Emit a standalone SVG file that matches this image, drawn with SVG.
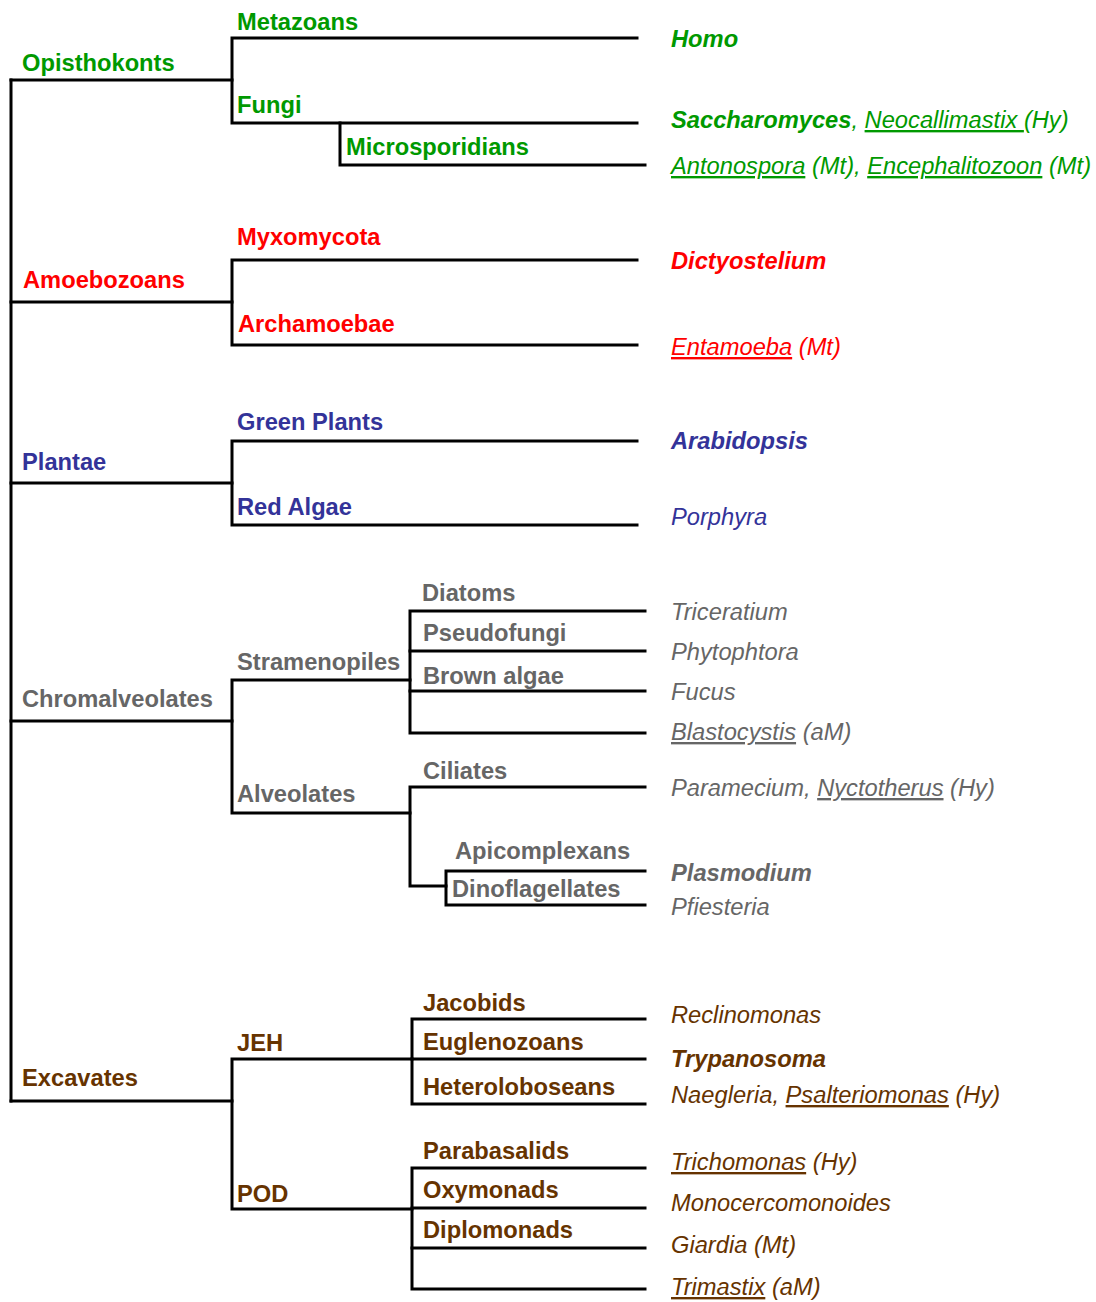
<svg xmlns="http://www.w3.org/2000/svg" width="1096" height="1302" viewBox="0 0 1096 1302">
<style>
text{font-family:"Liberation Sans",Arial,sans-serif;font-size:23.7px}
.c{font-weight:bold}
.s{font-style:italic}
.b{font-weight:bold}
.u{text-decoration:underline}
.g{fill:#009900}
.r{fill:#ff0000}
.p{fill:#333399}
.y{fill:#666666}
.w{fill:#663300}
#connectors path{fill:none;stroke:#000;stroke-width:3;stroke-linecap:square;stroke-linejoin:miter}
</style>
<rect width="1096" height="1302" fill="#fff"/>
<g id="connectors">
<path d="M11,80 V1101"/>
<path d="M11,80 H232"/>
<path d="M637,38 H232 V123 H637"/>
<path d="M340,123 V165 H645"/>
<path d="M11,302 H232"/>
<path d="M637,260 H232 V345 H637"/>
<path d="M11,483 H232"/>
<path d="M637,441 H232 V525 H637"/>
<path d="M11,721 H232"/>
<path d="M410,680 H232 V813 H410"/>
<path d="M645,611 H410 V733 H645"/>
<path d="M410,651 H645 M410,691 H645"/>
<path d="M645,787 H410 V886 H446"/>
<path d="M645,871 H446 V905 H645"/>
<path d="M11,1101 H232"/>
<path d="M412,1059 H232 V1209 H412"/>
<path d="M645,1019 H412 V1104 H645"/>
<path d="M412,1059 H645"/>
<path d="M645,1168 H412 V1289 H645"/>
<path d="M412,1208 H645 M412,1248 H645"/>
</g>
<g id="n-opisthokonts"><text class="c g" x="22" y="71">Opisthokonts</text></g>
<g id="n-metazoans"><text class="c g" x="237" y="30">Metazoans</text></g>
<g id="n-fungi"><text class="c g" x="237" y="113">Fungi</text></g>
<g id="n-microsporidians"><text class="c g" x="346" y="155">Microsporidians</text></g>
<g id="n-homo"><text class="s b g" x="671" y="47">Homo</text></g>
<g id="n-saccharomyces"><text class="s g" x="671" y="128"><tspan class="b">Saccharomyces</tspan>, <tspan class="u">Neocallimastix </tspan>(Hy)</text></g>
<g id="n-antonospora"><text class="s g" x="671" y="174"><tspan class="u">Antonospora</tspan> (Mt), <tspan class="u">Encephalitozoon</tspan> (Mt)</text></g>
<g id="n-amoebozoans"><text class="c r" x="23" y="288">Amoebozoans</text></g>
<g id="n-myxomycota"><text class="c r" x="237" y="245">Myxomycota</text></g>
<g id="n-archamoebae"><text class="c r" x="238" y="332">Archamoebae</text></g>
<g id="n-dictyostelium"><text class="s b r" x="671" y="269">Dictyostelium</text></g>
<g id="n-entamoeba"><text class="s r" x="671" y="355"><tspan class="u">Entamoeba</tspan> (Mt)</text></g>
<g id="n-plantae"><text class="c p" x="22" y="470">Plantae</text></g>
<g id="n-greenplants"><text class="c p" x="237" y="430">Green Plants</text></g>
<g id="n-redalgae"><text class="c p" x="237" y="515">Red Algae</text></g>
<g id="n-arabidopsis"><text class="s b p" x="671" y="449">Arabidopsis</text></g>
<g id="n-porphyra"><text class="s p" x="671" y="525">Porphyra</text></g>
<g id="n-chromalveolates"><text class="c y" x="22" y="707">Chromalveolates</text></g>
<g id="n-stramenopiles"><text class="c y" x="237" y="670">Stramenopiles</text></g>
<g id="n-alveolates"><text class="c y" x="237" y="802">Alveolates</text></g>
<g id="n-diatoms"><text class="c y" x="422" y="601">Diatoms</text></g>
<g id="n-pseudofungi"><text class="c y" x="423" y="641">Pseudofungi</text></g>
<g id="n-brownalgae"><text class="c y" x="423" y="684">Brown algae</text></g>
<g id="n-ciliates"><text class="c y" x="423" y="779">Ciliates</text></g>
<g id="n-apicomplexans"><text class="c y" x="455" y="859">Apicomplexans</text></g>
<g id="n-dinoflagellates"><text class="c y" x="452" y="897">Dinoflagellates</text></g>
<g id="n-triceratium"><text class="s y" x="671" y="620">Triceratium</text></g>
<g id="n-phytophtora"><text class="s y" x="671" y="660">Phytophtora</text></g>
<g id="n-fucus"><text class="s y" x="671" y="700">Fucus</text></g>
<g id="n-blastocystis"><text class="s y" x="671" y="740"><tspan class="u">Blastocystis</tspan> (aM)</text></g>
<g id="n-paramecium"><text class="s y" x="671" y="796">Paramecium, <tspan class="u">Nyctotherus</tspan> (Hy)</text></g>
<g id="n-plasmodium"><text class="s b y" x="671" y="881">Plasmodium</text></g>
<g id="n-pfiesteria"><text class="s y" x="671" y="915">Pfiesteria</text></g>
<g id="n-excavates"><text class="c w" x="22" y="1086">Excavates</text></g>
<g id="n-jeh"><text class="c w" x="237" y="1051">JEH</text></g>
<g id="n-pod"><text class="c w" x="237" y="1202">POD</text></g>
<g id="n-jacobids"><text class="c w" x="423" y="1011">Jacobids</text></g>
<g id="n-euglenozoans"><text class="c w" x="423" y="1050">Euglenozoans</text></g>
<g id="n-heteroloboseans"><text class="c w" x="423" y="1095">Heteroloboseans</text></g>
<g id="n-parabasalids"><text class="c w" x="423" y="1159">Parabasalids</text></g>
<g id="n-oxymonads"><text class="c w" x="423" y="1198">Oxymonads</text></g>
<g id="n-diplomonads"><text class="c w" x="423" y="1238">Diplomonads</text></g>
<g id="n-reclinomonas"><text class="s w" x="671" y="1023">Reclinomonas</text></g>
<g id="n-trypanosoma"><text class="s b w" x="671" y="1067">Trypanosoma</text></g>
<g id="n-naegleria"><text class="s w" x="671" y="1103">Naegleria, <tspan class="u">Psalteriomonas</tspan> (Hy)</text></g>
<g id="n-trichomonas"><text class="s w" x="671" y="1170"><tspan class="u">Trichomonas</tspan> (Hy)</text></g>
<g id="n-monocercomonoides"><text class="s w" x="671" y="1211">Monocercomonoides</text></g>
<g id="n-giardia"><text class="s w" x="671" y="1253">Giardia (Mt)</text></g>
<g id="n-trimastix"><text class="s w" x="671" y="1295"><tspan class="u">Trimastix</tspan> (aM)</text></g>
</svg>
